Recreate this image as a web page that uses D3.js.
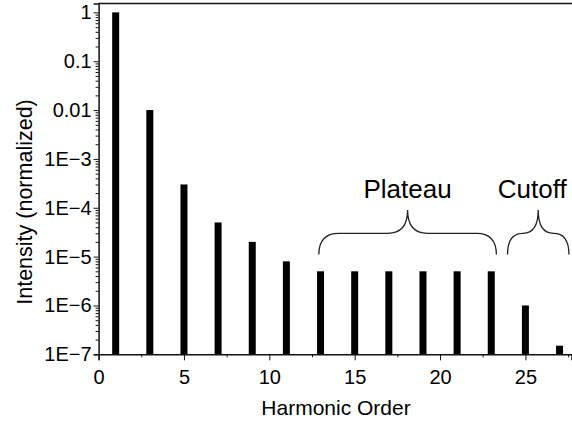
<!DOCTYPE html>
<html>
<head>
<meta charset="utf-8">
<script src="https://cdn.jsdelivr.net/npm/d3@7"></script>
<style>
  html, body { margin: 0; padding: 0; background: #fff; }
  svg { display: block; font-family: "Liberation Sans", Arial, sans-serif; }
</style>
</head>
<body>
<svg id="chart" width="572" height="422"></svg>
<script>
// Harmonic orders (odd harmonics) and their normalized intensities
const harmonicOrders = [1, 3, 5, 7, 9, 11, 13, 15, 17, 19, 21, 23, 25, 27];
const intensities = [1, 0.01, 3e-4, 5e-5, 2e-5, 8e-6, 5e-6, 5e-6, 5e-6, 5e-6, 5e-6, 5e-6, 1e-6, 1.5e-7];

// Axis ticks
const xMajorTicks = [0, 5, 10, 15, 20, 25];
const xMinorTicks = [2.5, 7.5, 12.5, 17.5, 22.5, 27.5];
const yMajorTicks = [1, 0.1, 0.01, 1e-3, 1e-4, 1e-5, 1e-6, 1e-7];
const yTickLabels = ["1", "0.1", "0.01", "1E\u22123", "1E\u22124", "1E\u22125", "1E\u22126", "1E\u22127"];

// Region annotations: label, harmonic-order span, label position
const regionLabels = ["Plateau", "Cutoff"];
const regionStart = [12.9, 23.95];
const regionEnd = [23.3, 27.55];
const regionLabelX = [18.1, 25.4];

const svg = d3.select("#chart");

const x = d3.scaleLinear().domain([0, 27.7]).range([98.6, 571.5]);
const y = d3.scaleLog().domain([1e-7, 1.52]).range([354.3, 3.5]);

// Bars
const barW = 7;
svg.append("g")
  .selectAll("rect")
  .data(harmonicOrders)
  .join("rect")
  .attr("x", (d) => x(d) - barW / 2)
  .attr("width", barW)
  .attr("y", (d, i) => y(intensities[i]))
  .attr("height", (d, i) => y(1e-7) - y(intensities[i]))
  .attr("fill", "#000");

// Minor log ticks on y
const yMinor = [];
for (let e = -7; e <= 0; e++) {
  for (let m = 2; m <= 9; m++) {
    const v = m * Math.pow(10, e);
    if (v <= 1.5) yMinor.push(v);
  }
}

const yMinorAxis = svg.append("g")
  .attr("transform", `translate(${x(0)},0)`)
  .call(d3.axisLeft(y).tickValues(yMinor).tickSize(3).tickFormat(""));
yMinorAxis.select(".domain").remove();

const yAxis = svg.append("g")
  .attr("transform", `translate(${x(0)},0)`)
  .call(d3.axisLeft(y).tickValues(yMajorTicks).tickSize(5).tickPadding(2)
    .tickFormat((d, i) => yTickLabels[i]));

const xMinorAxis = svg.append("g")
  .attr("transform", `translate(0,${y(1e-7)})`)
  .call(d3.axisBottom(x).tickValues(xMinorTicks).tickSize(3).tickFormat(""));
xMinorAxis.select(".domain").remove();

const xAxis = svg.append("g")
  .attr("transform", `translate(0,${y(1e-7)})`)
  .call(d3.axisBottom(x).tickValues(xMajorTicks).tickSize(6).tickPadding(10)
    .tickFormat(d3.format("d")));

svg.selectAll(".domain").attr("stroke", "#111").attr("stroke-width", 1.5);
svg.selectAll(".tick line").attr("stroke", "#111").attr("stroke-width", 1);
yAxis.selectAll("text").attr("font-size", 20).attr("fill", "#000")
  .attr("font-family", "'Liberation Sans', Arial, sans-serif");
xAxis.selectAll("text").attr("font-size", 20).attr("fill", "#000")
  .attr("font-family", "'Liberation Sans', Arial, sans-serif");

// Top frame line
svg.append("line")
  .attr("x1", x(0)).attr("x2", 572)
  .attr("y1", y(1.52)).attr("y2", y(1.52))
  .attr("stroke", "#111").attr("stroke-width", 1.5);

// Axis titles
svg.append("text")
  .attr("x", 336).attr("y", 415)
  .attr("text-anchor", "middle")
  .attr("font-size", 21)
  .text("Harmonic Order");

svg.append("text")
  .attr("transform", "translate(32,202) rotate(-90)")
  .attr("text-anchor", "middle")
  .attr("font-size", 21.5)
  .text("Intensity (normalized)");

// Curly braces over spectral regions
function bracePath(x1, x2, yb, ym, yt, r) {
  const xm = (x1 + x2) / 2;
  return `M${x1},${yb} Q${x1},${ym} ${x1 + r},${ym} L${xm - r},${ym} Q${xm},${ym} ${xm},${yt} ` +
         `Q${xm},${ym} ${xm + r},${ym} L${x2 - r},${ym} Q${x2},${ym} ${x2},${yb}`;
}

const braceBottom = 1.1e-5, braceMid = 3.0e-5, braceTip = 9e-5, labelBase = 1.6e-4;
regionLabels.forEach((label, i) => {
  const x1 = x(regionStart[i]), x2 = x(regionEnd[i]);
  const r = Math.min(20, (x2 - x1) / 4);
  svg.append("path")
    .attr("d", bracePath(x1, x2, y(braceBottom), y(braceMid), y(braceTip), r))
    .attr("fill", "none")
    .attr("stroke", "#222")
    .attr("stroke-width", 1.3);
  svg.append("text")
    .attr("x", x(regionLabelX[i]))
    .attr("y", y(labelBase))
    .attr("text-anchor", "middle")
    .attr("font-size", 26)
    .text(label);
});
</script>
</body>
</html>
